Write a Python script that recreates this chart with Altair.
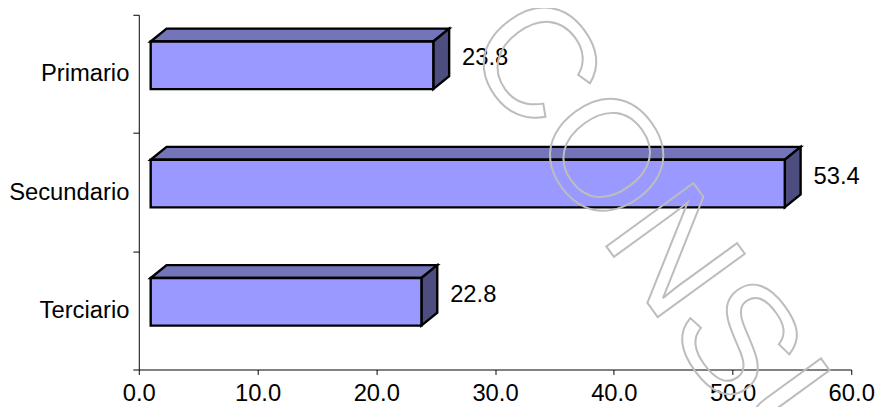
import json
import altair as alt
import pandas as pd

# ---- data ----
categories = ["Primario", "Secundario", "Terciario"]
values = [23.8, 53.4, 22.8]
x_ticks = [0, 10, 20, 30, 40, 50, 60]
watermark_text = ["CONSULTA"]

# ---- layout / 3D-effect constants (pixels) ----
W, H = 719, 358
X_MAX = 60
PX = X_MAX / W            # data units per pixel along x
BAND = H / len(categories)
SHIFT = 12 * PX           # front face starts a bit right of the axis
DX = 16 * PX              # depth along x
FT = 27 / BAND            # front face top inside a band
FB = 75 / BAND            # front face bottom inside a band
DY = 13 / BAND            # depth along y
BT, BB = FT - DY, FB - DY
LABEL_Y = 0.37

front_rows, top_rows, side_rows, lab_rows = [], [], [], []
for i, (c, v) in enumerate(zip(categories, values)):
    xa, xb, xc, xd = SHIFT, SHIFT + DX, v + SHIFT, v + SHIFT + DX
    front_rows.append(dict(cat=c, x=xa, x2=xc, y=i + FT, y2=i + FB))
    top_rows += [
        dict(cat=c, x=xa, y=i + FT, y2=i + FT),
        dict(cat=c, x=xb, y=i + BT, y2=i + FT),
        dict(cat=c, x=xc, y=i + BT, y2=i + FT),
        dict(cat=c, x=xd, y=i + BT, y2=i + BT),
    ]
    side_rows += [
        dict(cat=c, x=xc, y=i + FT, y2=i + FB),
        dict(cat=c, x=xd, y=i + BT, y2=i + BB),
    ]
    lab_rows.append(dict(cat=c, x=xd, y=i + LABEL_Y, v=v))

front = pd.DataFrame(front_rows)
top = pd.DataFrame(top_rows)
side = pd.DataFrame(side_rows)
labs = pd.DataFrame(lab_rows)

FONT = "Liberation Sans"
FS = 24
label_expr = json.dumps(categories) + "[datum.value] || ''"

xscale = alt.Scale(domain=[0, X_MAX], nice=False, zero=False)
yscale = alt.Scale(domain=[0, len(categories)], reverse=True, nice=False, zero=False)

x_axis = alt.Axis(
    values=x_ticks, format=".1f", grid=False, labelFlush=False, title=None,
    domainColor="black", tickColor="black", tickSize=5, labelPadding=7,
    labelFont=FONT, labelFontSize=FS, labelColor="black",
)
y_axis = alt.Axis(
    values=list(range(len(categories) + 1)), labelExpr=label_expr,
    labelOffset=BAND / 2, grid=False, labelFlush=False, labelOverlap=False,
    title=None, domainColor="black", tickColor="black", tickSize=6,
    labelPadding=4, labelFont=FONT, labelFontSize=FS, labelColor="black",
    labelBound=False,
)

SW = 2.4

top_layer = alt.Chart(top).mark_area(
    orient="vertical", fill="#7474BB", stroke="black", strokeWidth=SW, strokeJoin="miter"
).encode(
    x=alt.X("x:Q", scale=xscale, axis=x_axis, stack=None),
    y=alt.Y("y:Q", scale=yscale, axis=y_axis, stack=None),
    y2="y2:Q",
    detail="cat:N",
)

side_layer = alt.Chart(side).mark_area(
    orient="vertical", fill="#4D4D80", stroke="black", strokeWidth=SW, strokeJoin="miter"
).encode(
    x=alt.X("x:Q", scale=xscale, stack=None),
    y=alt.Y("y:Q", scale=yscale, stack=None),
    y2="y2:Q",
    detail="cat:N",
)

front_layer = alt.Chart(front).mark_rect(
    fill="#9999FF", stroke="black", strokeWidth=SW, strokeJoin="miter"
).encode(
    x=alt.X("x:Q", scale=xscale),
    x2="x2:Q",
    y=alt.Y("y:Q", scale=yscale),
    y2="y2:Q",
)

text_layer = alt.Chart(labs).mark_text(
    align="left", baseline="middle", dx=13, font=FONT, fontSize=FS, color="black"
).encode(
    x=alt.X("x:Q", scale=xscale),
    y=alt.Y("y:Q", scale=yscale),
    text=alt.Text("v:Q", format=".1f"),
)

wm = pd.DataFrame({"t": watermark_text})
wm_layer = alt.Chart(wm).mark_text(
    align="left", baseline="middle", angle=54, font=FONT, fontSize=158,
    fill="white", fillOpacity=0, stroke="#BDBDBD", strokeWidth=2,
).encode(
    x=alt.value(363), y=alt.value(4), text="t:N",
)

chart = alt.layer(top_layer, side_layer, front_layer, text_layer, wm_layer).properties(
    width=W, height=H,
    autosize=alt.AutoSizeParams(type="none"),
    padding={"left": 132, "top": 5, "right": 27, "bottom": 36},
).configure_view(stroke=None)

chart.save("out.html", embed_options={"renderer": "svg", "actions": False})
